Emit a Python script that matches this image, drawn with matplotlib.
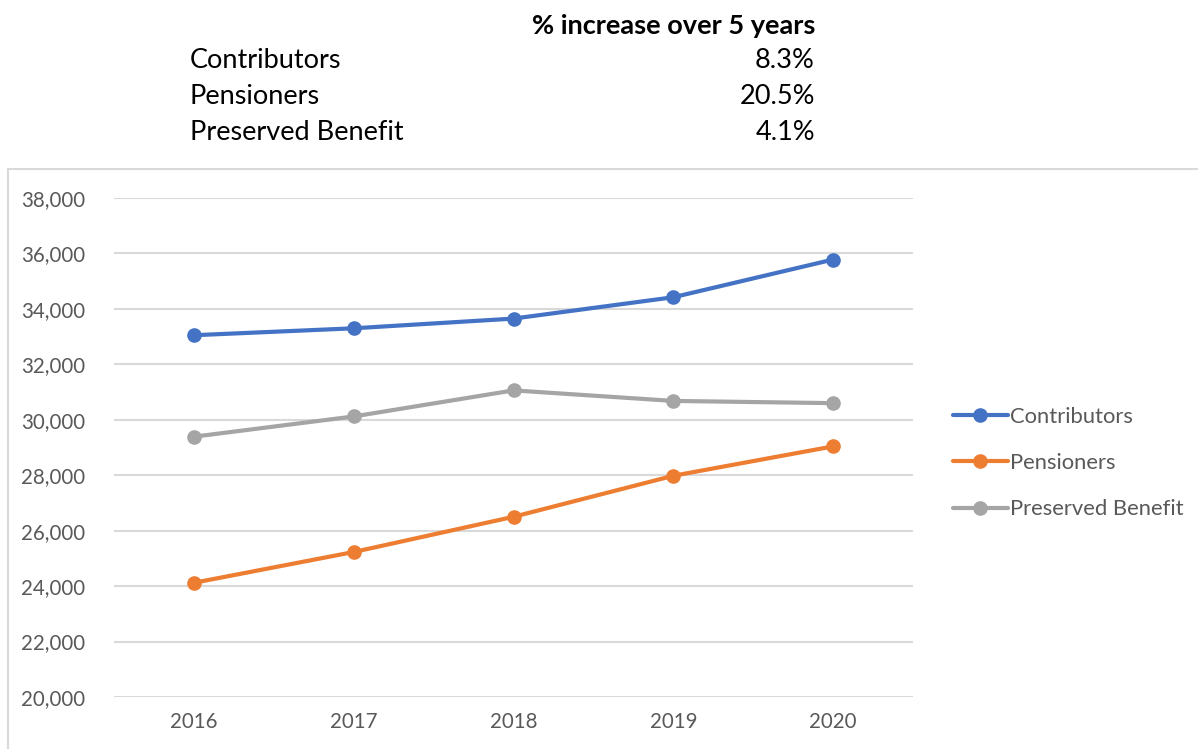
import matplotlib.pyplot as plt
from matplotlib.patches import Rectangle

years = ["2016", "2017", "2018", "2019", "2020"]
contributors = [33050, 33300, 33650, 34420, 35780]
pensioners = [24120, 25230, 26500, 27980, 29040]
preserved = [29390, 30120, 31060, 30680, 30600]

summary_labels = ["Contributors", "Pensioners", "Preserved Benefit"]
summary_values = ["8.3%", "20.5%", "4.1%"]

colors = {"blue": "#4472C4", "orange": "#ED7D31", "grey": "#A5A5A5",
          "grid": "#D9D9D9", "text": "#595959"}

plt.rcParams['font.family'] = ['Lato', 'DejaVu Sans']

fig = plt.figure(figsize=(11.98, 7.49), dpi=100)
W, H = 1198, 749

# chart frame
fig.patches.append(Rectangle((8 / W, -0.01), 1.0, 1 - 169 / H + 0.01,
                             transform=fig.transFigure, fill=False,
                             edgecolor=colors["grid"], linewidth=1.5))

ax = fig.add_axes([114 / W, 1 - 697 / H, (913 - 114) / W, (697 - 198) / H])

x = range(len(years))
for vals, c, name in [(contributors, colors["blue"], "Contributors"),
                      (pensioners, colors["orange"], "Pensioners"),
                      (preserved, colors["grey"], "Preserved Benefit")]:
    ax.plot(x, vals, color=c, linewidth=3, marker="o", markersize=9.5,
            label=name, solid_capstyle="round")

ax.set_xlim(-0.5, 4.5)
ax.set_ylim(20000, 38000)
ax.set_yticks(range(20000, 38001, 2000))
ax.set_yticklabels(["{:,}".format(v) for v in range(20000, 38001, 2000)])
ax.set_xticks(list(x))
ax.set_xticklabels(years)
ax.grid(axis="y", color=colors["grid"], linewidth=1.5)
ax.set_axisbelow(True)
for s in ax.spines.values():
    s.set_visible(False)
ax.tick_params(length=0, labelsize=14.8, colors=colors["text"])
ax.tick_params(axis="y", pad=21)
ax.tick_params(axis="x", pad=11)

leg = ax.legend(loc="center left", bbox_to_anchor=(1.025, 0.469), frameon=False,
                fontsize=15.8, labelcolor=colors["text"], handlelength=2.5,
                handletextpad=0.1, labelspacing=1.2)

# summary table above the chart
fig.text(815 / W, 1 - 26 / H, "% increase over 5 years", ha="right", va="center",
         fontsize=19.5, fontweight="bold", color="black")
for i, (lab, val) in enumerate(zip(summary_labels, summary_values)):
    yy = 1 - (61 + 35.5 * i) / H
    fig.text(190 / W, yy, lab, ha="left", va="center", fontsize=19.5, color="black")
    fig.text(815 / W, yy, val, ha="right", va="center", fontsize=19.5, color="black")

plt.savefig("out.png", dpi=100)
